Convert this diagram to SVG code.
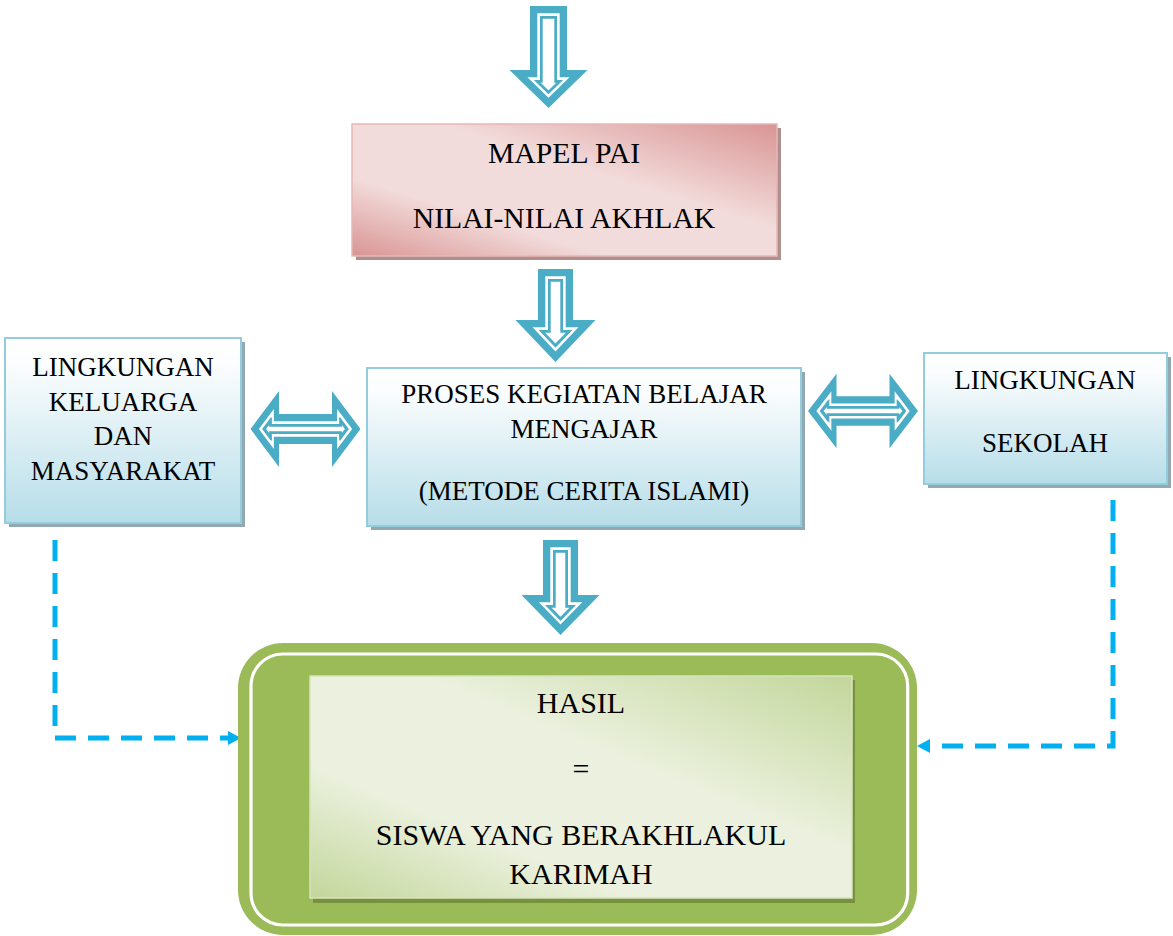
<svg xmlns="http://www.w3.org/2000/svg" xmlns:xlink="http://www.w3.org/1999/xlink" width="1173" height="936" viewBox="0 0 1173 936">
<defs>
<style>
.t{font-family:"Liberation Serif","Times New Roman",serif;fill:#000;text-anchor:middle}
.s26{font-size:27px}
.s29{font-size:29.7px}
.s30{font-size:30px}
.ao{fill:#4bacc6}
.aw{fill:none;stroke:#fff;stroke-width:2.7}
.ai{fill:#fff;stroke:#4bacc6;stroke-width:2.7}
.dash{fill:none;stroke:#00b0f0;stroke-width:5;stroke-dasharray:21 12}
.blue{fill:url(#blueGrad);stroke:#93cddd;stroke-width:2}
.bshadow{fill:#93a9b2}
</style>
<linearGradient id="blueGrad" x1="0" y1="0" x2="0" y2="1">
<stop offset="0" stop-color="#ffffff"/>
<stop offset="0.15" stop-color="#fbfdfe"/>
<stop offset="1" stop-color="#b6dde8"/>
</linearGradient>
<linearGradient id="pinkGrad" x1="0" y1="1" x2="1" y2="0">
<stop offset="0" stop-color="#d99594"/>
<stop offset="0.3" stop-color="#f2dcdb"/>
<stop offset="0.6" stop-color="#f2dcdb"/>
<stop offset="1" stop-color="#d99594"/>
</linearGradient>
<linearGradient id="greenGrad" x1="0" y1="1" x2="1" y2="0">
<stop offset="0" stop-color="#c3d69b"/>
<stop offset="0.3" stop-color="#ebf1de"/>
<stop offset="0.6" stop-color="#ebf1de"/>
<stop offset="1" stop-color="#c3d69b"/>
</linearGradient>
<marker id="tri" markerUnits="userSpaceOnUse" markerWidth="13" markerHeight="14" viewBox="0 0 13 14" refX="0" refY="7" orient="auto">
<path d="M0,0 L13,7 L0,14 z" fill="#00b0f0"/>
</marker>
<g id="dbl">
<polygon class="ao" points="-55,0 -26.5,-38 -26.5,-15 26.5,-15 26.5,-38 55,0 26.5,38 26.5,15 -26.5,15 -26.5,38"/>
<polygon class="aw" points="-45,0 -33,-16 -33,-6.3 33,-6.3 33,-16 45,0 33,16 33,6.3 -33,6.3 -33,16"/>
<polygon class="ai" points="-41,0 -35,-8 -35,-3.65 35,-3.65 35,-8 41,0 35,8 35,3.65 -35,3.65 -35,8"/>
</g>
</defs>

<g id="connectors">
<g id="arrow-top">
<polygon class="ao" points="530,6 567,6 567,70 587.5,70 548.5,108 509.5,70 530,70"/>
<polygon class="aw" points="538.65,14.65 558.35,14.65 558.35,78.65 566.22,78.65 548.5,95.92 530.78,78.65 538.65,78.65"/>
<polygon class="ai" points="541.35,17.35 555.65,17.35 555.65,81.35 559.59,81.35 548.5,92.14 537.41,81.35 541.35,81.35"/>
</g>
<g id="arrow-mapel-proses">
<polygon class="ao" points="538,269 573,269 573,320 595.5,320 555.5,362 515.5,320 538,320"/>
<polygon class="aw" points="546.65,277.65 564.35,277.65 564.35,328.65 575.31,328.65 555.5,349.46 535.69,328.65 546.65,328.65"/>
<polygon class="ai" points="549.35,280.35 561.65,280.35 561.65,331.35 569.01,331.35 555.5,345.55 541.99,331.35 549.35,331.35"/>
</g>
<g id="arrow-proses-hasil">
<polygon class="ao" points="543,540 578,540 578,595 599.5,595 560.5,635 521.5,595 543,595"/>
<polygon class="aw" points="551.65,548.65 569.35,548.65 569.35,603.65 578.99,603.65 560.5,622.61 542.01,603.65 551.65,603.65"/>
<polygon class="ai" points="554.35,551.35 566.65,551.35 566.65,606.35 572.58,606.35 560.5,618.74 548.42,606.35 554.35,606.35"/>
</g>
<use id="arrow-keluarga-proses" xlink:href="#dbl" href="#dbl" transform="translate(305.5,429)"/>
<use id="arrow-proses-sekolah" xlink:href="#dbl" href="#dbl" transform="translate(863,411) scale(1,0.98)"/>
<path id="dash-left" class="dash" d="M55,540 L55,738 L228,738" marker-end="url(#tri)"/>
<path id="dash-right" class="dash" d="M1113,500 L1113,746 L930,746" marker-end="url(#tri)"/>
</g>

<g id="node-mapel">
<rect x="356" y="128" width="425" height="132" fill="#b08f8f"/>
<rect x="352" y="124" width="425" height="132" fill="url(#pinkGrad)" stroke="#e5b8b7" stroke-width="1.5"/>
<text class="t s29" x="564" y="163">MAPEL PAI</text>
<text class="t s29" x="564" y="228">NILAI-NILAI AKHLAK</text>
</g>

<g id="node-keluarga">
<rect class="bshadow" x="9" y="342" width="236" height="185"/>
<rect class="blue" x="5" y="338" width="236" height="185"/>
<text class="t s26" x="123" y="376">LINGKUNGAN</text>
<text class="t s26" x="123" y="410.5">KELUARGA</text>
<text class="t s26" x="123" y="445">DAN</text>
<text class="t s26" x="123" y="479.5">MASYARAKAT</text>
</g>

<g id="node-proses">
<rect class="bshadow" x="371" y="372" width="434" height="158"/>
<rect class="blue" x="367" y="368" width="434" height="158"/>
<text class="t s26" x="584" y="403">PROSES KEGIATAN BELAJAR</text>
<text class="t s26" x="584" y="438">MENGAJAR</text>
<text class="t s26" x="584" y="499.5">(METODE CERITA ISLAMI)</text>
</g>

<g id="node-sekolah">
<rect class="bshadow" x="928" y="357" width="243" height="131"/>
<rect class="blue" x="924" y="353" width="243" height="131"/>
<text class="t s26" x="1045" y="389">LINGKUNGAN</text>
<text class="t s26" x="1045" y="452">SEKOLAH</text>
</g>

<g id="node-hasil">
<rect x="238" y="643" width="679" height="292" rx="45" ry="45" fill="#9bbb59"/>
<rect x="251" y="654" width="656.7" height="271" rx="32" ry="32" fill="none" stroke="#fff" stroke-width="3.2"/>
<rect x="313" y="680" width="542" height="223" fill="#76923c"/>
<rect x="310" y="676" width="542" height="222" fill="url(#greenGrad)" stroke="#d7e4bd" stroke-width="1.5"/>
<text class="t s30" x="581" y="713">HASIL</text>
<text class="t s30" x="581" y="779">=</text>
<text class="t s30" x="581" y="845">SISWA YANG BERAKHLAKUL</text>
<text class="t s30" x="581" y="884">KARIMAH</text>
</g>
</svg>
